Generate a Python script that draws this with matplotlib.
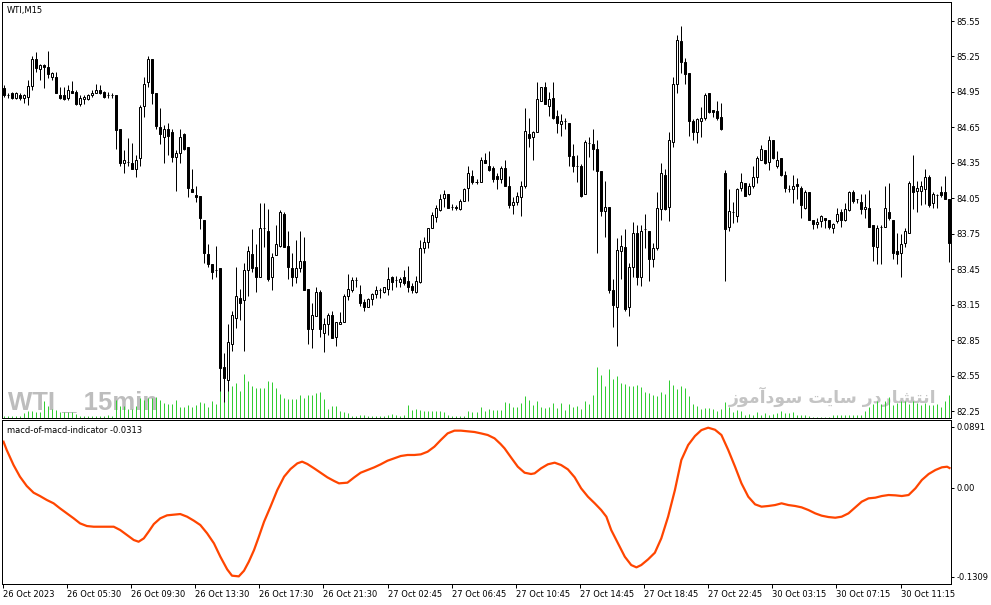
import matplotlib
matplotlib.use("Agg")
import matplotlib.pyplot as plt

# ---------------- data ----------------
opens = [84.98,84.92,84.94,84.90,84.92,84.90,84.91,85.00,85.23,85.14,85.18,85.16,85.08,85.08,84.92,84.92,84.90,84.96,84.95,84.85,
         84.89,84.89,84.92,84.94,84.97,84.95,84.92,84.92,84.92,84.64,84.35,84.36,84.35,84.30,84.39,84.83,85.03,85.23,84.94,84.65,
         84.57,84.64,84.61,84.40,84.43,84.59,84.48,84.13,84.08,84.07,83.87,83.58,83.49,83.44,83.46,82.62,82.51,82.82,83.04,83.21,
         83.19,83.44,83.58,83.47,83.38,83.80,83.77,83.38,83.57,83.65,83.92,83.65,83.46,83.38,83.46,83.52,83.28,82.94,83.05,83.26,
         82.91,82.99,83.06,82.88,82.99,83.00,83.22,83.27,83.36,83.24,83.17,83.13,83.20,83.24,83.27,83.26,83.28,83.38,83.36,83.34,
         83.38,83.35,83.31,83.26,83.34,83.63,83.68,83.80,83.89,83.95,84.05,84.09,83.98,83.98,83.96,84.03,84.14,84.24,84.19,84.19,
         84.37,84.32,84.31,84.24,84.21,84.31,84.15,83.99,84.02,84.06,84.15,84.59,84.57,84.61,84.87,84.99,84.83,84.90,84.75,84.68,
         84.70,84.69,84.41,84.32,84.32,84.09,84.52,84.51,84.47,84.28,83.94,83.98,83.27,83.13,83.60,83.64,83.13,83.47,83.76,83.38,
         83.79,83.77,83.54,83.63,83.96,84.25,83.98,84.53,85.02,85.38,85.20,85.11,84.70,84.61,84.70,84.73,84.94,84.80,84.79,84.74,
         84.26,83.81,83.93,83.90,84.14,84.18,84.09,84.15,84.23,84.37,84.46,84.36,84.54,84.32,84.39,84.25,84.13,84.13,84.17,84.14,
         83.97,84.10,83.87,83.83,83.86,83.88,83.87,83.80,83.86,83.93,83.87,83.95,84.10,84.04,84.02,83.96,83.97,83.82,83.64,83.81,
         83.81,83.93,83.87,83.60,83.59,83.67,83.76,84.15,84.11,84.11,84.13,84.23,84.01,84.08,84.10,84.10,84.04]
highs = [85.01,84.94,84.95,84.95,84.94,84.93,85.05,85.25,85.29,85.19,85.19,85.30,85.12,85.12,84.99,84.99,85.01,85.04,84.97,84.92,
         84.92,84.93,84.97,85.02,85.01,84.96,84.95,84.94,84.92,84.64,84.46,84.56,84.52,84.42,84.84,85.08,85.25,85.23,84.94,84.81,
         84.67,84.69,84.64,84.46,84.64,84.60,84.48,84.30,84.15,84.07,83.87,83.66,83.49,83.65,83.46,82.74,82.99,83.10,83.47,83.28,
         83.50,83.65,83.79,83.66,84.01,84.01,83.96,83.59,83.82,83.95,83.93,83.77,83.59,83.70,83.77,83.72,83.28,83.16,83.30,83.27,
         83.04,83.08,83.10,83.00,83.09,83.24,83.41,83.38,83.38,83.32,83.20,83.21,83.25,83.31,83.29,83.30,83.47,83.39,83.39,83.38,
         83.44,83.48,83.33,83.39,83.70,83.72,83.80,83.93,83.99,84.09,84.12,84.09,84.00,83.99,84.04,84.14,84.32,84.29,84.21,84.40,
         84.43,84.45,84.32,84.26,84.32,84.37,84.24,84.06,84.10,84.20,84.81,84.73,84.62,85.03,84.99,85.03,84.95,85.03,84.80,84.76,
         84.73,84.69,84.51,84.42,84.34,84.54,84.57,84.64,84.54,84.28,84.20,83.98,83.37,83.71,83.74,83.79,83.50,83.85,83.82,83.82,
         83.92,83.77,83.67,84.10,84.35,84.30,84.61,85.08,85.43,85.51,85.24,85.11,84.72,84.73,84.82,84.94,84.94,84.80,84.87,84.86,
         84.29,84.13,84.02,84.14,84.26,84.18,84.18,84.32,84.41,84.50,84.46,84.58,84.54,84.45,84.39,84.28,84.16,84.25,84.22,84.15,
         84.12,84.10,83.87,83.88,83.91,83.88,83.87,83.84,83.97,83.96,84.01,84.11,84.12,84.04,84.09,84.09,84.12,83.82,83.82,83.82,
         84.15,84.18,83.87,83.76,83.75,83.80,84.20,84.42,84.20,84.20,84.30,84.25,84.10,84.09,84.15,84.24,84.04]
lows = [84.91,84.90,84.89,84.89,84.88,84.86,84.84,84.97,85.12,85.05,84.98,85.07,85.05,84.94,84.89,84.88,84.88,84.94,84.84,84.83,
        84.85,84.88,84.91,84.94,84.93,84.90,84.90,84.90,84.47,84.32,84.26,84.32,84.30,84.23,84.32,84.74,84.99,84.85,84.64,84.51,
        84.35,84.42,84.36,84.11,84.35,84.46,84.06,84.10,84.02,83.79,83.50,83.47,83.37,83.38,82.42,82.33,82.42,82.76,82.95,83.02,
        82.76,83.22,83.43,83.26,83.38,83.64,83.35,83.27,83.57,83.64,83.64,83.37,83.31,83.33,83.43,83.27,82.82,82.78,83.05,82.88,
        82.75,82.89,82.87,82.80,82.99,83.00,83.19,83.26,83.30,83.14,83.10,83.13,83.15,83.21,83.21,83.25,83.23,83.27,83.30,83.30,
        83.32,83.26,83.25,83.25,83.33,83.59,83.63,83.80,83.85,83.94,83.98,83.97,83.95,83.95,83.95,84.03,84.03,84.17,84.17,84.19,
        84.35,84.28,84.19,84.13,84.18,84.15,83.97,83.92,83.99,83.90,84.14,84.48,84.37,84.61,84.87,84.85,84.75,84.72,84.60,84.58,
        84.64,84.32,84.27,84.19,84.06,84.09,84.40,84.29,83.59,83.90,83.72,83.25,82.96,82.80,83.37,83.10,83.05,83.38,83.32,83.31,
        83.63,83.35,83.47,83.61,83.87,83.95,83.86,84.48,84.94,85.11,85.02,84.58,84.54,84.52,84.57,84.71,84.77,84.74,84.71,84.63,
        83.35,83.77,83.84,83.85,84.11,84.07,84.08,84.14,84.18,84.37,84.34,84.29,84.38,84.31,84.24,84.10,84.10,84.01,84.04,83.88,
        83.96,83.87,83.79,83.80,83.81,83.80,83.79,83.76,83.84,83.81,83.86,83.94,84.01,84.01,83.92,83.88,83.81,83.52,83.49,83.49,
        83.81,83.87,83.54,83.49,83.38,83.64,83.76,83.96,83.93,83.99,84.00,83.98,83.97,83.97,84.06,84.04,83.51]
closes = [84.92,84.92,84.90,84.94,84.90,84.92,85.00,85.23,85.15,85.18,85.16,85.10,85.11,84.94,84.90,84.89,84.97,84.94,84.85,84.90,
          84.91,84.92,84.94,84.97,84.94,84.91,84.92,84.92,84.63,84.35,84.37,84.36,84.30,84.37,84.82,85.02,85.23,84.94,84.66,84.59,
          84.64,84.58,84.40,84.43,84.57,84.47,84.14,84.10,84.06,83.88,83.59,83.49,83.43,83.44,82.61,82.53,82.83,83.06,83.22,83.16,
          83.44,83.60,83.46,83.38,83.80,83.80,83.37,83.55,83.66,83.93,83.64,83.47,83.38,83.46,83.52,83.27,82.94,83.06,83.26,82.94,
          82.99,83.06,82.87,83.00,83.00,83.22,83.28,83.36,83.36,83.16,83.13,83.20,83.24,83.27,83.27,83.30,83.37,83.34,83.36,83.37,
          83.33,83.30,83.27,83.35,83.63,83.68,83.80,83.91,83.97,84.04,84.09,83.97,83.98,83.97,84.03,84.13,84.26,84.19,84.19,84.37,
          84.35,84.29,84.21,84.21,84.31,84.15,83.99,84.02,84.07,84.15,84.62,84.56,84.61,84.89,84.99,84.85,84.89,84.73,84.69,84.70,
          84.70,84.41,84.32,84.32,84.07,84.53,84.52,84.47,84.28,83.94,83.98,83.27,83.15,83.61,83.65,83.11,83.47,83.76,83.38,83.77,
          83.79,83.54,83.63,83.97,84.26,83.96,84.54,85.02,85.39,85.20,85.10,84.70,84.61,84.72,84.73,84.92,84.78,84.78,84.73,84.64,
          83.79,83.94,83.93,84.13,84.19,84.07,84.15,84.23,84.39,84.47,84.35,84.54,84.39,84.37,84.25,84.14,84.13,84.15,84.15,83.99,
          84.10,83.87,83.83,83.85,83.90,83.87,83.81,83.83,83.92,83.87,83.96,84.10,84.03,84.04,83.96,83.98,83.81,83.65,83.80,83.81,
          83.97,83.88,83.59,83.58,83.66,83.77,84.18,84.10,84.14,84.15,84.23,83.99,84.09,84.08,84.08,84.04,83.67]
volumes = [5,5,5,5,5,15,20,20,18,17,52,37,27,23,18,18,18,18,13,7,5,5,5,7,5,7,10,5,
           53,37,37,27,27,37,60,55,60,60,63,53,45,43,43,55,33,33,40,33,40,48,45,33,52,42,83,100,83,95,
           105,80,133,110,95,90,90,90,112,107,90,73,60,57,57,57,70,60,70,70,75,77,57,27,35,35,20,17,15,5,
           5,8,8,7,7,7,7,7,10,12,10,7,10,40,25,27,25,20,22,22,22,22,17,10,7,7,7,7,20,17,17,33,20,27,23,23,23,
           48,45,33,33,45,67,55,40,52,33,30,33,45,30,45,25,43,33,37,28,52,43,70,153,130,97,148,118,127,105,103,95,97,
           100,93,77,75,70,67,77,73,115,100,87,95,90,67,43,35,27,30,30,27,20,27,47,33,18,23,20,10,13,10,17,10,15,10,13,15,20,15,15,17,
           8,10,8,5,4,3,3,3,3,10,10,10,10,10,10,10,10,22,32,42,50,42,52,64,40,45,50,50,42,50,45,40,44,40,40,42,32,52,68]
ind_pos = [0,0.8,2.5,4.1,5.8,7.5,9.1,10.8,12.5,14.1,15.8,17.5,19.1,20.8,22.5,24.1,25.8,27.5,29.1,30.8,
           32.5,33.7,35.0,36.2,37.5,39.1,40.8,42.5,44.1,45.8,47.5,49.1,50.8,52.5,54.1,55.8,57.0,58.7,60.0,61.2,
           62.5,63.7,65.0,66.6,68.3,70.0,71.6,73.3,74.5,75.8,77.5,79.1,80.8,82.5,83.7,85.8,87.5,89.1,90.8,92.5,
           94.1,95.8,97.5,99.1,100.8,102.5,104.1,105.8,107.5,109.1,110.8,112.5,114.1,115.8,117.5,119.1,120.8,122.5,124.0,
           125.0,126.6,128.3,130.0,131.6,132.5,134.1,135.8,137.5,139.1,140.8,142.5,144.1,145.8,147.5,149.1,150.4,151.6,153.3,155.0,
           156.6,157.9,159.1,160.8,162.5,164.1,165.8,167.5,169.1,170.8,172.5,174.1,175.8,177.5,179.1,180.8,182.5,184.1,185.8,187.5,
           189.1,190.8,192.5,194.1,195.8,197.5,199.1,200.8,202.5,204.1,205.8,207.5,209.1,210.8,212.5,214.1,215.8,217.5,219.1,220.8,
           222.5,224.1,225.8,227.5,229.1,230.8,232.5,234.1,235.4,236.0]
ind_val = [0.0675,0.0553,0.0333,0.0162,0.0025,-0.0073,-0.0122,-0.0180,-0.0229,-0.0303,-0.0376,-0.0449,-0.0523,-0.0562,-0.0572,-0.0572,-0.0572,-0.0572,-0.0620,-0.0694,
           -0.0767,-0.0792,-0.0743,-0.0645,-0.0533,-0.0449,-0.0405,-0.0396,-0.0386,-0.0425,-0.0484,-0.0547,-0.0669,-0.0816,-0.1012,-0.1197,-0.1290,-0.1300,-0.1217,-0.1085,
           -0.0914,-0.0719,-0.0499,-0.0279,-0.0034,0.0162,0.0274,0.0357,0.0382,0.0348,0.0284,0.0220,0.0152,0.0098,0.0064,0.0074,0.0152,0.0220,0.0260,0.0299,
           0.0343,0.0396,0.0431,0.0465,0.0480,0.0480,0.0489,0.0528,0.0602,0.0700,0.0797,0.0837,0.0837,0.0827,0.0817,0.0797,0.0773,0.0724,0.0641,
           0.0577,0.0445,0.0308,0.0220,0.0201,0.0211,0.0284,0.0343,0.0367,0.0333,0.0269,0.0152,-0.0009,-0.0132,-0.0229,-0.0327,-0.0425,-0.0620,-0.0816,-0.1012,
           -0.1134,-0.1168,-0.1134,-0.1051,-0.0953,-0.0743,-0.0425,-0.0034,0.0406,0.0626,0.0758,0.0845,0.0880,0.0850,0.0773,0.0553,0.0308,0.0064,-0.0132,-0.0244,
           -0.0278,-0.0268,-0.0254,-0.0229,-0.0254,-0.0268,-0.0288,-0.0327,-0.0376,-0.0410,-0.0430,-0.0440,-0.0425,-0.0376,-0.0288,-0.0205,-0.0156,-0.0146,-0.0122,-0.0107,
           -0.0112,-0.0122,-0.0107,-0.0009,0.0113,0.0201,0.0260,0.0299,0.0308,0.0289]
date_labels = ["26 Oct 2023", "26 Oct 05:30", "26 Oct 09:30", "26 Oct 13:30", "26 Oct 17:30",
               "26 Oct 21:30", "27 Oct 02:45", "27 Oct 06:45", "27 Oct 10:45", "27 Oct 14:45",
               "27 Oct 18:45", "27 Oct 22:45", "30 Oct 03:15", "30 Oct 07:15", "30 Oct 11:15"]
date_bar_index = [0, 16, 32, 48, 64, 80, 96, 112, 128, 144, 160, 176, 192, 208, 224]
price_ticks = [85.55, 85.25, 84.95, 84.65, 84.35, 84.05, 83.75, 83.45, 83.15, 82.85, 82.55, 82.25]
ind_ticks = [0.0891, 0.0, -0.1309]
ind_tick_labels = ["0.0891", "0.00", "-0.1309"]
symbol_label = "WTI,M15"
indicator_label = "macd-of-macd-indicator -0.0313"
watermark_left = "WTI _ 15min"
# "انتشار در سایت سودآموز" in shaped presentation forms, visual order
watermark_right = ("\uFEAF\uFEEE\uFEE3\uFE81\uFEA9\uFEEE\uFEB3 \uFE96\uFBFE\uFE8E\uFEB3 "
                   "\uFEAD\uFEA9\uFEAD\uFE8E\uFEB8\uFE98\uFEE7\uFE8D")

# ---------------- layout ----------------
plt.rcParams['font.family'] = ['DejaVu Sans']
W, H = 991, 605
PX = 0.72  # one pixel in points
fig = plt.figure(figsize=(W / 100, H / 100), dpi=100)
fig.patch.set_facecolor('white')

def rect(x0, y0, x1, y1):
    return [x0 / W, 1 - y1 / H, (x1 - x0) / W, (y1 - y0) / H]

main_rect = rect(2, 2, 951, 418)
ind_rect = rect(2, 420, 951, 584)

axv = fig.add_axes(main_rect)   # volume + watermarks (behind)
ax = fig.add_axes(main_rect)    # candles
axi = fig.add_axes(ind_rect)    # indicator

n = len(opens)
xlim = (-0.375, n - 1 + 0.375)

# volume axis
axv.set_xlim(*xlim)
axv.set_ylim(0, max(volumes) * 8.15)
axv.vlines(range(n), 0, volumes, color='#32CD32', linewidth=PX, snap=True, zorder=2)
axv.set_xticks([]); axv.set_yticks([])
for s in axv.spines.values():
    s.set_visible(False)
axv.text((8 - 2) / 949, (418 - 409) / 416, watermark_left, transform=axv.transAxes,
         fontsize=18.5, fontweight='bold', color='#bdbdbd',
         family=['Liberation Sans', 'DejaVu Sans'],
         ha='left', va='baseline', zorder=1)
axv.text((936 - 2) / 949, (418 - 403) / 416, watermark_right, transform=axv.transAxes,
         fontsize=12.5, fontweight='bold', color='#c4c4c4', family=['DejaVu Sans'],
         ha='right', va='baseline', zorder=1)

# candle axis
ax.set_zorder(axv.get_zorder() + 1)
ax.patch.set_visible(False)
ax.set_xlim(*xlim)
ax.set_ylim(82.191, 85.711)
x = list(range(n))
ax.vlines(x, lows, highs, color='black', linewidth=PX, snap=True, zorder=2)
bottoms = [min(o, c) for o, c in zip(opens, closes)]
heights = [abs(c - o) for o, c in zip(opens, closes)]
faces = ['white' if c >= o else 'black' for o, c in zip(opens, closes)]
ax.bar(x, heights, bottom=bottoms, width=0.5, color=faces, edgecolor='black',
       linewidth=PX, snap=True, zorder=3)
ax.set_xticks([])
ax.yaxis.tick_right()
ax.set_yticks(price_ticks)
ax.set_yticklabels([f"{p:.2f}" for p in price_ticks])
ax.tick_params(axis='y', direction='out', length=2.2, width=PX, pad=1.5,
               labelsize=6, colors='black')
for s in ax.spines.values():
    s.set_linewidth(PX)
    s.set_color('black')

fig.text(7 / W, 1 - 10.5 / H, symbol_label, fontsize=6, color='black', ha='left', va='center')

# indicator axis
axi.set_xlim(*xlim)
axi.set_ylim(-0.1412, 0.0993)
axi.plot(ind_pos, ind_val, color='#FF4500', linewidth=1.6, solid_joinstyle='round')
axi.yaxis.tick_right()
axi.set_yticks(ind_ticks)
axi.set_yticklabels(ind_tick_labels)
axi.tick_params(axis='y', direction='out', length=2.2, width=PX, pad=1.5, labelsize=6)
axi.set_xticks([i - 0.2 for i in date_bar_index])
axi.set_xticklabels(date_labels)
axi.tick_params(axis='x', direction='out', length=3, width=PX, pad=1.2, labelsize=6)
for lab in axi.get_xticklabels():
    lab.set_horizontalalignment('left')
for s in axi.spines.values():
    s.set_linewidth(PX)
    s.set_color('black')
axi.text((7 - 2) / 949, (584 - 430) / 164, indicator_label, transform=axi.transAxes,
         fontsize=6, color='black', ha='left', va='center')

fig.savefig('out.png', dpi=100, facecolor='white')
